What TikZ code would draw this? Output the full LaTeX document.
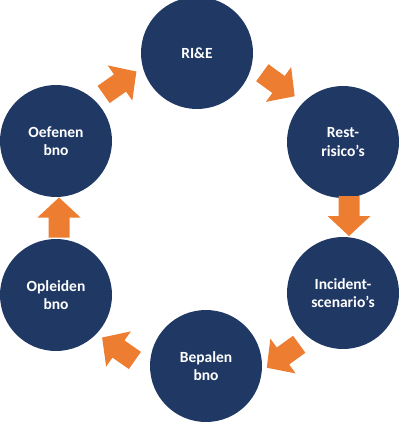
\documentclass[tikz,border=0pt]{standalone}
\usepackage{fontspec}
\setmainfont{Carlito}
\definecolor{stagenavy}{HTML}{203864}
\definecolor{arroworange}{HTML}{ED7D31}

\begin{document}
\begin{tikzpicture}[
  x=1pt, y=-1pt,
  stage/.style={circle, fill=stagenavy, minimum size=112pt, inner sep=0pt, align=center,
    text=white, font=\fontsize{15.5}{18.5}\selectfont\bfseries},
  blockarrow/.pic={
    \fill[arroworange] (-20,-10.5) -- (0,-10.5) -- (0,-21.5) -- (20,0)
      -- (0,21.5) -- (0,10.5) -- (-20,10.5) -- cycle;
  }
]
\useasboundingbox (0,0) rectangle (400,422);

% cycle stages
\node[stage] (rie) at (197,53) {RI\&E};
\node[stage] (rest) at (343,142) {Rest-\\risico’s};
\node[stage] (incident) at (343,293) {Incident-\\scenario’s};
\node[stage] (bepalen) at (206,366) {Bepalen\\bno};
\node[stage] (opleiden) at (56,295) {Opleiden\\bno};
\node[stage] (oefenen) at (56,141) {Oefenen\\bno};

% block arrows between the stages
\pic[rotate=-36] (rie-rest) at (278.5,84.5) {blockarrow};
\pic[rotate=-90] (rest-incident) at (349,216) {blockarrow};
\pic[rotate=-144] (incident-bepalen) at (283,356) {blockarrow};
\pic[rotate=145] (bepalen-opleiden) at (118.5,349) {blockarrow};
\pic[rotate=90] (opleiden-oefenen) at (59,217.5) {blockarrow};
\pic[rotate=35] (oefenen-rie) at (120,83) {blockarrow};

\end{tikzpicture}
\end{document}
